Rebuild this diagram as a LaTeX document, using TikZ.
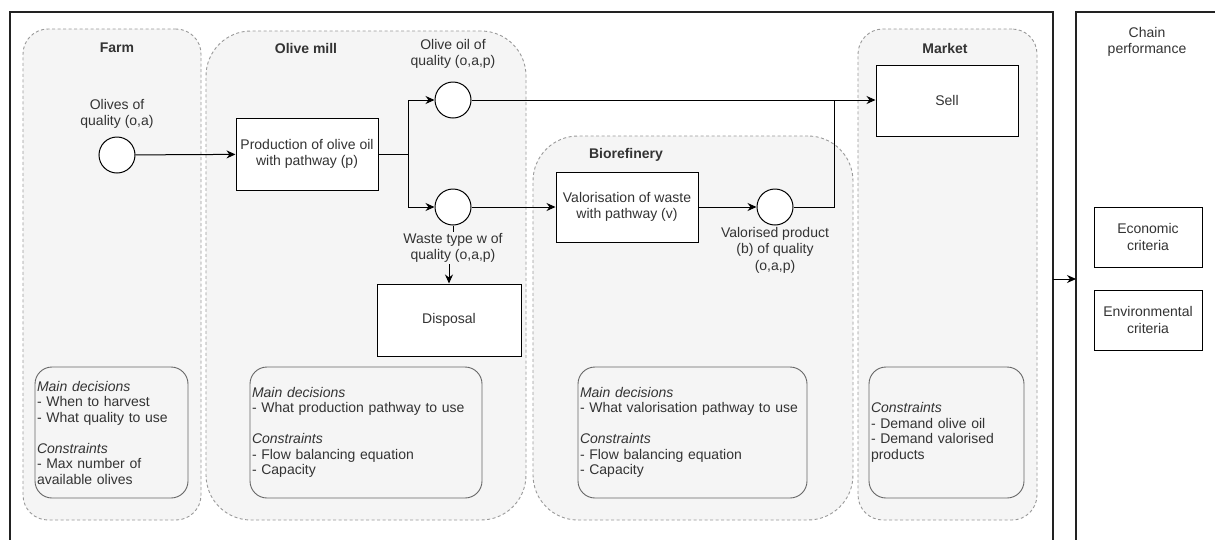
\documentclass[tikz,border=0pt]{standalone}
\usepackage{fontspec}
\setmainfont{Liberation Sans}
\usetikzlibrary{arrows.meta}
\definecolor{txt}{HTML}{333333}
\definecolor{zonefill}{HTML}{F5F5F5}
\definecolor{zoneline}{HTML}{999999}
\definecolor{infoline}{HTML}{666666}
\definecolor{frameline}{HTML}{222222}
\begin{document}
\begin{tikzpicture}[x=1pt,y=-1pt,
  every node/.style={text=txt, font=\fontsize{14}{16.5}\selectfont},
  zone/.style={draw=zoneline, fill=zonefill, line width=0.9pt,
    dash pattern=on 3pt off 2.5pt, inner sep=0pt},
  zonetitle/.style={font=\fontsize{14}{16.5}\selectfont\bfseries},
  info/.style={draw=infoline, fill=zonefill, line width=0.9pt,
    rounded corners=17pt, inner sep=1pt, align=left,
    font=\fontsize{14}{15.5}\selectfont},
  procbox/.style={draw=black, fill=white, line width=1pt, inner sep=2pt,
    align=center},
  flow/.style={circle, draw=black, fill=white, line width=1pt,
    minimum size=36pt, inner sep=0pt},
  lbl/.style={align=center, inner sep=1pt},
  arr/.style={draw=black, line width=1pt, -{Stealth[length=9pt,width=8pt]}},
  link/.style={draw=black, line width=1pt},
  frame/.style={draw=frameline, line width=2pt}]
\useasboundingbox (0,0) rectangle (1215,539);
\fill[white] (0,0) rectangle (1215,539);

% outer frames of the supply chain and of the performance panel
\begin{scope}
  \clip (0,0) rectangle (1215,539);
  \draw[frame] (10,12) rectangle (1053,560);
  \draw[frame] (1076,12) rectangle (1240,560);
\end{scope}
\coordinate (chainR) at (1053,279);
\coordinate (perfL) at (1076,279);

% stage zones
\node[zone, rounded corners=25pt, minimum width=178pt, minimum height=491pt] (farm) at (112,274.5) {};
\node[zone, rounded corners=45pt, minimum width=320pt, minimum height=489pt] (mill) at (366,275.5) {};
\node[zone, rounded corners=45pt, minimum width=320pt, minimum height=384pt] (bio) at (693,328) {};
\node[zone, rounded corners=25pt, minimum width=179pt, minimum height=491pt] (market) at (947.5,274.5) {};

\node[zonetitle] (farmT) at (117,48) {Farm};
\node[zonetitle] (millT) at (306,48) {Olive mill};
\node[zonetitle] (bioT) at (626,155) {Biorefinery};
\node[zonetitle] (marketT) at (945,48) {Market};

% decision / constraint notes
\node[info, minimum width=153pt, minimum height=131pt, text width=149pt] (farmI) at (111.5,432.5)
  {\textit{Main decisions}\\- When to harvest\\- What quality to use\\\mbox{}\\\textit{Constraints}\\- Max number of\\available olives};
\node[info, minimum width=232pt, minimum height=131pt, text width=228pt] (millI) at (366,432.5)
  {\textit{Main decisions}\\- What production pathway to use\\\mbox{}\\\textit{Constraints}\\- Flow balancing equation\\- Capacity};
\node[info, minimum width=229pt, minimum height=131pt, text width=225pt] (bioI) at (692.5,432.5)
  {\textit{Main decisions}\\- What valorisation pathway to use\\\mbox{}\\\textit{Constraints}\\- Flow balancing equation\\- Capacity};
\node[info, minimum width=155pt, minimum height=131pt, text width=151pt] (marketI) at (946.5,432.5)
  {\textit{Constraints}\\- Demand olive oil\\- Demand valorised\\products};

% process boxes
\node[procbox, minimum width=142pt, minimum height=72pt] (prod) at (307,154) {Production of olive oil\\with pathway (p)};
\node[procbox, minimum width=142pt, minimum height=70pt] (valor) at (627,207) {Valorisation of waste\\with pathway (v)};
\node[procbox, minimum width=142pt, minimum height=71pt] (sell) at (947,100.5) {Sell};
\node[procbox, minimum width=144pt, minimum height=72pt] (disp) at (449,320) {Disposal};
\node[procbox, minimum width=108pt, minimum height=60pt] (econ) at (1148,237) {Economic\\criteria};
\node[procbox, minimum width=108pt, minimum height=60pt] (env) at (1148,320) {Environmental\\criteria};
\node[lbl] (perfT) at (1147,42) {Chain\\performance};

% product flows
\node[flow] (olives) at (117,155) {};
\node[flow] (oil) at (453,100) {};
\node[flow] (waste) at (453,207) {};
\node[flow] (vprod) at (775,207) {};

\node[lbl] (olivesL) at (117,114) {Olives of\\quality (o,a)};
\node[lbl] (oilL) at (453,54) {Olive oil of\\quality (o,a,p)};
\node[lbl] (vprodL) at (775,250) {Valorised product\\(b) of quality\\(o,a,p)};

% connectors
\coordinate (split) at (408,154);
\coordinate (join) at (834,101);
\draw[arr] (olives) -- (prod);
\draw[link] (prod.east) -- (split);
\draw[arr] (split) |- (oil);
\draw[arr] (split) |- (waste);
\draw[arr] (oil.east) -- (oil.east -| sell.west);
\draw[link] (vprod.east) -| (join);
\draw[arr] (waste) -- (valor);
\draw[arr] (valor) -- (vprod);
\draw[arr] (waste.south) -- ++(0,14) -| (disp.north);
\node[lbl, fill=zonefill] (wasteL) at (453,248) {Waste type w of\\quality (o,a,p)};
\draw[arr] (chainR) -- (perfL);
\end{tikzpicture}
\end{document}
